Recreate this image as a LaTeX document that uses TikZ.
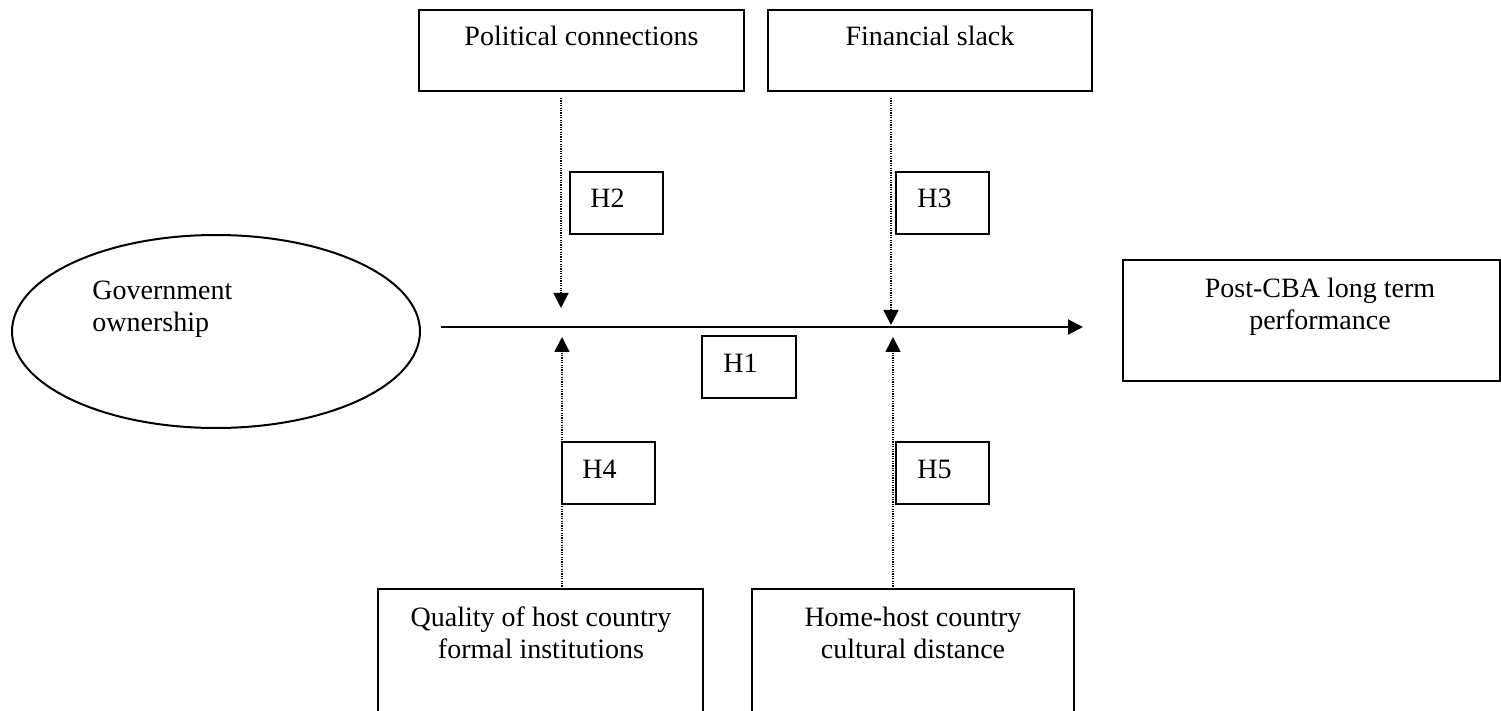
\documentclass[tikz,border=0pt]{standalone}
\usepackage{fontspec}
\setmainfont{Liberation Serif}
\usetikzlibrary{arrows.meta,shapes.geometric}
\tikzset{
  px/.style={x=0.5pt,y=-0.5pt},
  boxnode/.style={draw,line width=1pt,rectangle,inner sep=0pt},
  hbox/.style={boxnode,minimum width=46.5pt,minimum height=31pt},
  txt/.style={inner sep=0pt,font=\fontsize{14}{16}\selectfont,align=center},
  mainarrow/.style={line width=1pt,-{Triangle[width=7.5pt,length=7.5pt]}},
  modarrow/.style={line width=0.9pt,dash pattern=on 0.6pt off 0.6pt,-{Triangle[width=7.5pt,length=7.5pt]}}
}
\begin{document}
\begin{tikzpicture}[px]
\useasboundingbox (0,0) rectangle (1501,711);
\clip (0,0) rectangle (1501,711);
\fill[white] (0,0) rectangle (1501,711);
% boxes
\node[boxnode,minimum width=162.5pt,minimum height=40.5pt] (pc) at (581.5,50.3) {};
\node[boxnode,minimum width=162pt,minimum height=40.5pt] (fs) at (930,50.3) {};
\node[hbox] (h2) at (616.3,203) {};
\node[hbox] (h3) at (942,203) {};
\node[hbox,minimum width=47pt] (h1) at (749,367.3) {};
\node[hbox] (h4) at (608.5,472.8) {};
\node[hbox] (h5) at (942.5,472.8) {};
\node[draw,line width=1pt,ellipse,inner sep=0pt,minimum width=204pt,minimum height=96.5pt] (go) at (216,331.5) {};
\node[boxnode,minimum width=188.5pt,minimum height=60.3pt] (pf) at (1311.5,320.3) {};
\node[boxnode,minimum width=162.5pt,minimum height=70.5pt] (qi) at (540.5,659.5) {};
\node[boxnode,minimum width=161pt,minimum height=70.5pt] (cd) at (913,659.5) {};
% texts
\node[txt,anchor=base] (tpc) at (581.5,46) {Political connections};
\node[txt,anchor=base] (tfs) at (930,46) {Financial slack};
\node[txt,anchor=base west] (th2) at (590,208) {H2};
\node[txt,anchor=base west] (th3) at (917,208) {H3};
\node[txt,anchor=base west] (th1) at (723,373) {H1};
\node[txt,anchor=base west] (th4) at (582,479) {H4};
\node[txt,anchor=base west] (th5) at (917,479) {H5};
\node[txt,anchor=base west,align=left] (tgo) at (92,332) {Government\\ownership};
\node[txt,anchor=base] (tpf) at (1320,330) {Post-CBA long term\\performance};
\node[txt,anchor=base] (tqi) at (541,658) {Quality of host country\\formal institutions};
\node[txt,anchor=base] (tcd) at (913,658) {Home-host country\\cultural distance};
% connector coordinates
\coordinate (ms) at (441,327);
\coordinate (me) at (1083,327);
\coordinate (a2s) at (561,98);
\coordinate (a2e) at (561,308);
\coordinate (a3s) at (891,98);
\coordinate (a3e) at (891,325);
\coordinate (a4s) at (562,589);
\coordinate (a4e) at (562,337);
\coordinate (a5s) at (893,589);
\coordinate (a5e) at (893,337);
\draw[mainarrow] (ms) -- (me);
\draw[modarrow] (a2s) -- (a2e);
\draw[modarrow] (a3s) -- (a3e);
\draw[modarrow] (a4s) -- (a4e);
\draw[modarrow] (a5s) -- (a5e);
\end{tikzpicture}
\end{document}
